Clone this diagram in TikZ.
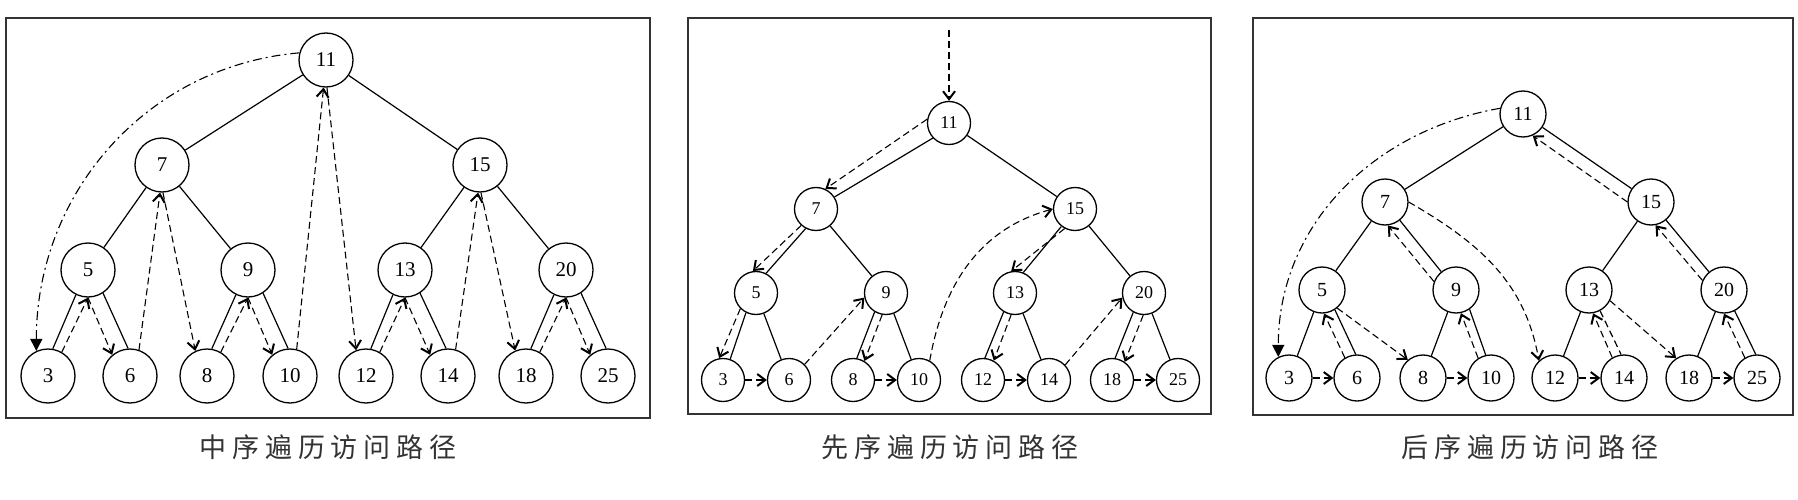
\documentclass[tikz,border=0pt]{standalone}
\usepackage{fontspec}
\setmainfont{Liberation Serif}
\newfontfamily\cjk[LetterSpace=22]{Noto Sans CJK SC}
\usetikzlibrary{arrows.meta}
\tikzstyle{inkey} = [circle, draw=black, line width=1.3pt, minimum size=54pt, inner sep=0pt, font=\fontsize{21}{21}\selectfont]
\tikzstyle{prekey} = [inkey, minimum size=43pt, font=\fontsize{18}{18}\selectfont]
\tikzstyle{postkey} = [inkey, minimum size=46pt, font=\fontsize{20}{20}\selectfont]
\tikzstyle{edge} = [line width=1.2pt]
\tikzstyle{walk} = [line width=1.1pt, dash pattern=on 7pt off 4pt, -{Straight Barb[length=8pt,width=12pt,line width=2pt]}]
\tikzstyle{jump} = [line width=1.1pt, dash pattern=on 9pt off 4pt on 2pt off 4pt, -{Triangle[length=12pt,width=12pt]}]
\tikzstyle{frame} = [line width=1.5pt, draw=black!80]
\tikzstyle{caption} = [font=\cjk\fontsize{27}{27}\selectfont, text=black!80]

\begin{document}
\begin{tikzpicture}[x=1pt, y=-1pt]
\useasboundingbox (0,0) rectangle (1798,500);
\draw [frame] (6,18) rectangle (650,418);
\draw [frame] (688,18) rectangle (1211,414);
\draw [frame] (1253,18) rectangle (1793,415);

\node (a11) [inkey] at (326,60) {11};
\node (a7) [inkey] at (162,165) {7};
\node (a15) [inkey] at (480,165) {15};
\node (a5) [inkey] at (88,270) {5};
\node (a9) [inkey] at (248,270) {9};
\node (a13) [inkey] at (405,270) {13};
\node (a20) [inkey] at (566,270) {20};
\node (a3) [inkey] at (48,376) {3};
\node (a6) [inkey] at (130,376) {6};
\node (a8) [inkey] at (207,376) {8};
\node (a10) [inkey] at (290,376) {10};
\node (a12) [inkey] at (366,376) {12};
\node (a14) [inkey] at (448,376) {14};
\node (a18) [inkey] at (526,376) {18};
\node (a25) [inkey] at (608,376) {25};
\draw [edge] (a11) -- (a7);
\draw [edge] (a11) -- (a15);
\draw [edge] (a7) -- (a5);
\draw [edge] (a7) -- (a9);
\draw [edge] (a15) -- (a13);
\draw [edge] (a15) -- (a20);
\draw [edge] (a5.-116) -- (a3.80);
\draw [edge] (a5.-57) -- (a6.94);
\draw [edge] (a9.-116) -- (a8.80);
\draw [edge] (a9.-57) -- (a10.94);
\draw [edge] (a13.-116) -- (a12.80);
\draw [edge] (a13.-57) -- (a14.94);
\draw [edge] (a20.-116) -- (a18.80);
\draw [edge] (a20.-57) -- (a25.94);
\draw [jump] (a11.165) to[out=185,in=90] (a3.115);
\draw [walk] (a3.60) -- (a5.-90);
\draw [walk] (a5.-90) -- (a6.130);
\draw [walk] (a6.71) -- (a7.-94);
\draw [walk] (a7.-88) -- (a8.115);
\draw [walk] (a8.60) -- (a9.-90);
\draw [walk] (a9.-90) -- (a10.130);
\draw [walk] (a10.76) -- (a11.-95);
\draw [walk] (a11.-88) -- (a12.111);
\draw [walk] (a12.60) -- (a13.-90);
\draw [walk] (a13.-90) -- (a14.130);
\draw [walk] (a14.74) -- (a15.-94);
\draw [walk] (a15.-88) -- (a18.113);
\draw [walk] (a18.60) -- (a20.-90);
\draw [walk] (a20.-90) -- (a25.130);

\node (b11) [prekey] at (949,123) {11};
\node (b7) [prekey] at (816,209) {7};
\node (b15) [prekey] at (1075,209) {15};
\node (b5) [prekey] at (756,293) {5};
\node (b9) [prekey] at (886,293) {9};
\node (b13) [prekey] at (1015,293) {13};
\node (b20) [prekey] at (1144,293) {20};
\node (b3) [prekey] at (723,380) {3};
\node (b6) [prekey] at (789,380) {6};
\node (b8) [prekey] at (853,380) {8};
\node (b10) [prekey] at (919,380) {10};
\node (b12) [prekey] at (983,380) {12};
\node (b14) [prekey] at (1049,380) {14};
\node (b18) [prekey] at (1112,380) {18};
\node (b25) [prekey] at (1178,380) {25};
\coordinate (bstart) at (949,30);
\draw [edge] (b11.-137) -- (b7.33);
\draw [edge] (b11) -- (b15);
\draw [edge] (b7.-118) -- (b5.63);
\draw [edge] (b7) -- (b9);
\draw [edge] (b15.-128) -- (b13.68);
\draw [edge] (b15) -- (b20);
\draw [edge] (b5.-117) -- (b3.71);
\draw [edge] (b5) -- (b6);
\draw [edge] (b9.-121) -- (b8.80);
\draw [edge] (b9) -- (b10);
\draw [edge] (b13.-121) -- (b12.85);
\draw [edge] (b13) -- (b14);
\draw [edge] (b20.-119) -- (b18.82);
\draw [edge] (b20) -- (b25);
\draw [walk] (bstart) -- (b11);
\draw [walk] (b11.170) -- (b7.65);
\draw [walk] (b7.-132) -- (b5.98);
\draw [walk] (b5.-135) -- (b3.100);
\draw [walk] (b3) -- (b6);
\draw [walk] (b6.45) -- (b9.192);
\draw [walk] (b9.-100) -- (b8.59);
\draw [walk] (b8) -- (b10);
\draw [walk] (b10.61) to[out=80,in=195] (b15.180);
\draw [walk] (b15.-118) -- (b13.100);
\draw [walk] (b13.-100) -- (b12.61);
\draw [walk] (b12) -- (b14);
\draw [walk] (b14.43) -- (b20.192);
\draw [walk] (b20.-92) -- (b18.55);
\draw [walk] (b18) -- (b25);

\node (c11) [postkey] at (1523,114) {11};
\node (c7) [postkey] at (1385,202) {7};
\node (c15) [postkey] at (1651,202) {15};
\node (c5) [postkey] at (1322,290) {5};
\node (c9) [postkey] at (1456,290) {9};
\node (c13) [postkey] at (1589,290) {13};
\node (c20) [postkey] at (1724,290) {20};
\node (c3) [postkey] at (1289,378) {3};
\node (c6) [postkey] at (1357,378) {6};
\node (c8) [postkey] at (1423,378) {8};
\node (c10) [postkey] at (1491,378) {10};
\node (c12) [postkey] at (1555,378) {12};
\node (c14) [postkey] at (1624,378) {14};
\node (c18) [postkey] at (1689,378) {18};
\node (c25) [postkey] at (1757,378) {25};
\draw [edge] (c11) -- (c7);
\draw [edge] (c11) -- (c15);
\draw [edge] (c7) -- (c5);
\draw [edge] (c7) -- (c9);
\draw [edge] (c15) -- (c13);
\draw [edge] (c15) -- (c20);
\draw [edge] (c5) -- (c3);
\draw [edge] (c5.-57) -- (c6.93);
\draw [edge] (c9) -- (c8);
\draw [edge] (c9.-55) -- (c10.103);
\draw [edge] (c13) -- (c12);
\draw [edge] (c20) -- (c18);
\draw [edge] (c20.-63) -- (c25.93);
\draw [jump] (c11.166) to[out=190,in=90] (c3.117);
\draw [walk] (c3) -- (c6);
\draw [walk] (c6.121) -- (c5.-85);
\draw [walk] (c5.-50) -- (c8.130);
\draw [walk] (c8) -- (c10);
\draw [walk] (c10.123) -- (c9.-78);
\draw [walk] (c9.159) -- (c7.-83);
\draw [walk] (c7.0) to[out=-30,in=100] (c12.133);
\draw [walk] (c12) -- (c14);
\draw [edge, dash pattern=on 7pt off 4pt] (c13.-62) -- (c14.97);
\draw [walk] (c14.120) -- (c13.-80);
\draw [walk] (c13.-27) -- (c18.123);
\draw [walk] (c18) -- (c25);
\draw [walk] (c25.121) -- (c20.-90);
\draw [walk] (c20.156) -- (c15.-79);
\draw [walk] (c15.180) -- (c11.-66);

\node (incap) [caption] at (328,447) {中序遍历访问路径};
\node (precap) [caption] at (950,447) {先序遍历访问路径};
\node (postcap) [caption] at (1530,447) {后序遍历访问路径};
\end{tikzpicture}
\end{document}
